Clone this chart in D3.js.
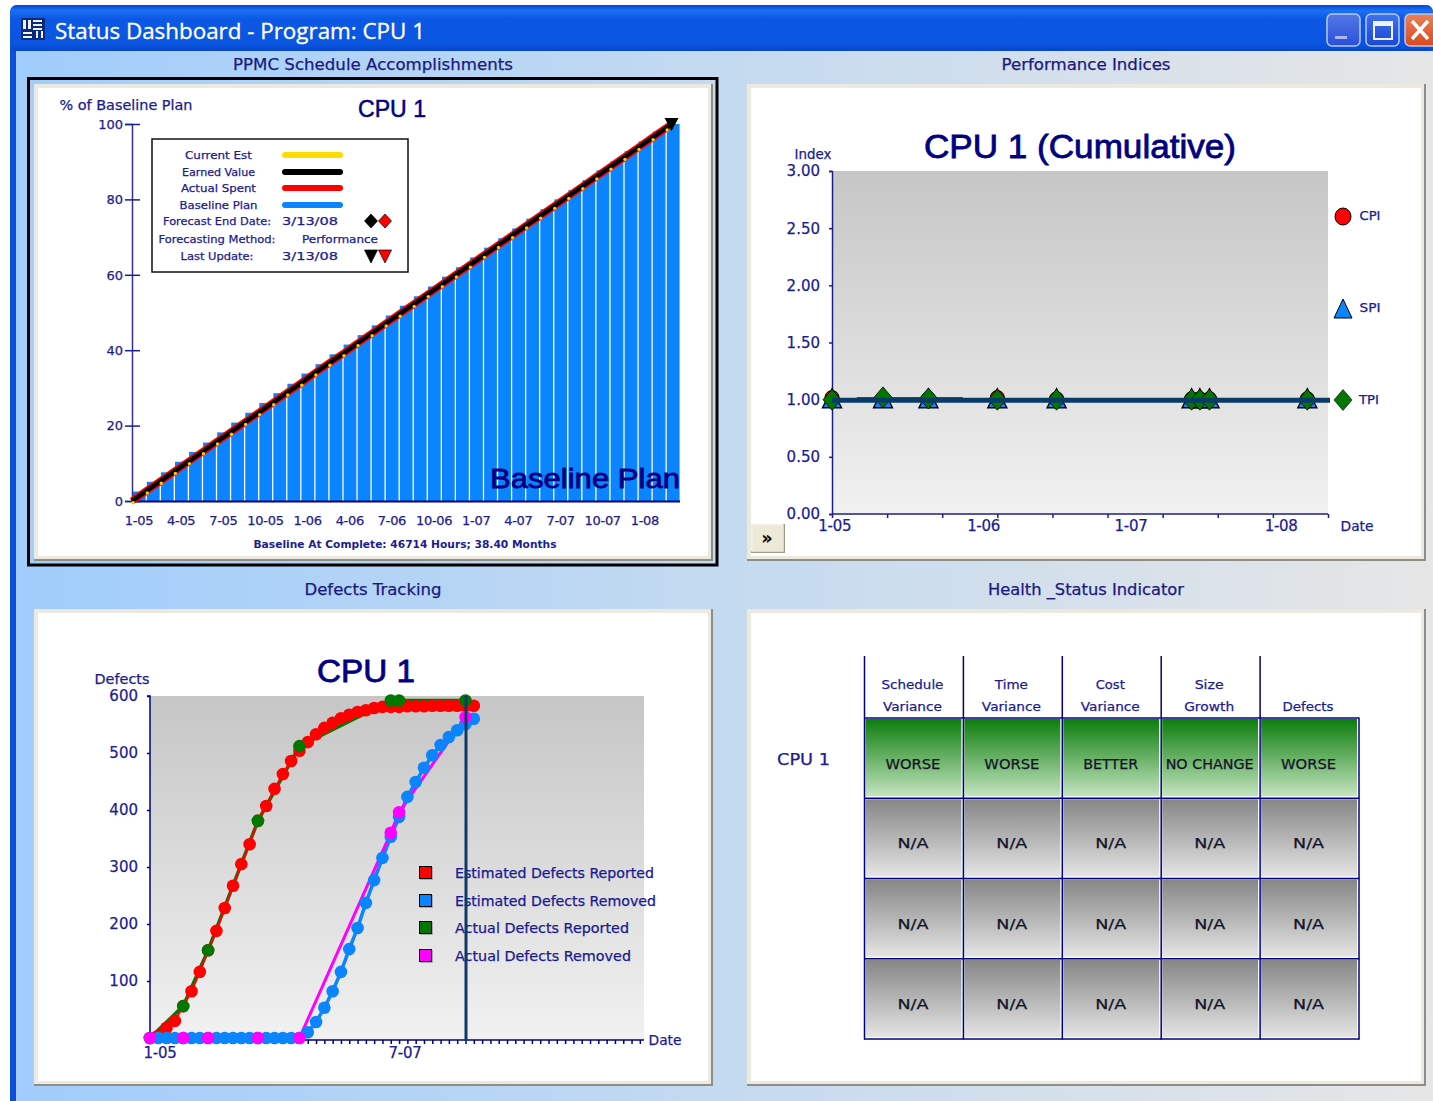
<!DOCTYPE html>
<html><head><meta charset="utf-8">
<script src="https://cdn.jsdelivr.net/npm/d3@7"></script>
<style>html,body{margin:0;padding:0;background:#fff;overflow:hidden}svg{display:block}text{font-family:"DejaVu Sans",sans-serif}</style>
</head><body><svg id="c" width="1433" height="1101"></svg>
<script>
// ---------- data ----------
const windowTitle = "Status Dashboard - Program: CPU 1";
const panelTitles = ["PPMC Schedule Accomplishments","Performance Indices","Defects Tracking","Health _Status Indicator"];

// Schedule accomplishments
const baselineBars = [2.5,5.1,7.6,10.4,13,15.5,18.2,20.8,23.4,26,28.6,31.1,33.8,36.3,38.9,41.5,44,46.6,49.2,51.8,54.3,56.9,59.5,62,64.6,67.2,69.7,72.3,74.9,77.4,80,82.5,85.1,87.7,90.2,92.8,95.4,98,100];
const scheduleMonths = [0,1,2,3,4,5,6,7,8,9,10,11,12,13,14,15,16,17,18,19,20,21,22,23,24,25,26,27,28,29,30,31,32,33,34,35,36,37,38,38.4];
const earnedValue = [0,2.6,5.2,7.8,10.4,13,15.6,18.2,20.8,23.4,26,28.6,31.2,33.9,36.5,39,41.7,44.3,46.9,49.5,52.1,54.7,57.3,59.9,62.5,65.1,67.7,70.3,72.9,75.5,78.1,80.7,83.3,85.9,88.5,91.1,93.7,96.3,98.9,100];
const scheduleTickLabels = ["1-05","4-05","7-05","10-05","1-06","4-06","7-06","10-06","1-07","4-07","7-07","10-07","1-08"];
const scheduleYTicks = [0,20,40,60,80,100];
const scheduleLegend = [["Current Est","#ffdc00",67],["Earned Value","#000000",73],["Actual Spent","#ff0000",75],["Baseline Plan","#0a84ff",78]];

// Performance indices
const perfMonths = [0,3.7,7,12,16.3,26.1,26.7,27.4,34.5];
const cpiValues = [1.01,1,1,1.01,1,1,1,1,1];
const spiValues = [0.99,0.99,0.99,0.99,0.99,0.99,0.99,0.99,0.99];
const tpiValues = [1,1.02,1.01,1,1,1,1,1,1];
const perfYTicks = [0,0.5,1,1.5,2,2.5,3];
const perfXTicks = [0,4,8,12,16,20,24,28,32,36];
const perfXLabels = [["1-05",0.2],["1-06",11],["1-07",21.7],["1-08",32.6]];

// Defects
const estReported = [0,4,18,30,56,82,116,154,188,228,267,305,340,381,407,437,463,486,504,519,533,544,553,561,567,572,575,579,581,581,581,582,582,582,583,583,583,583,583,583];
const estRemoved = [0,0,0,0,0,0,0,0,0,0,0,0,0,0,0,0,0,0,0,10,28,53,82,116,156,193,237,277,316,353,388,423,449,474,496,514,528,540,551,560];
const actualMonths = [0,4,7,13,18,29,30,38];
const actReported = [0,56,154,381,512,592,592,592];
const actRemoved = [0,0,0,0,0,360,396,563];
const defectsYTicks = [100,200,300,400,500,600];
const defectsMonthTicks = d3.range(0,60);
const defectsLegend = [["Estimated Defects Reported","#ff0000"],["Estimated Defects Removed","#0a84ff"],["Actual Defects Reported","#007800"],["Actual Defects Removed","#ff00ff"]];

// Health
const healthHeaders = [["Schedule","Variance"],["Time","Variance"],["Cost","Variance"],["Size","Growth"],["","Defects"]];
const healthRows = [
  ["WORSE","WORSE","BETTER","NO CHANGE","WORSE"],
  ["N/A","N/A","N/A","N/A","N/A"],
  ["N/A","N/A","N/A","N/A","N/A"],
  ["N/A","N/A","N/A","N/A","N/A"]];

// ---------- helpers ----------
const NAVY="#1c1c8e", DEEP="#000080";
const svg=d3.select("#c");
const defs=svg.append("defs");
function grad(id,stops,h){
  const g=defs.append("linearGradient").attr("id",id);
  if(h) g.attr("x1",0).attr("x2",1).attr("y1",0).attr("y2",0);
  else g.attr("x1",0).attr("x2",0).attr("y1",0).attr("y2",1);
  stops.forEach(s=>g.append("stop").attr("offset",s[0]).attr("stop-color",s[1]));
}
grad("bg",[[0,"#a0cdfc"],[0.5,"#c4daf0"],[1,"#e6e6e6"]],true);
grad("title",[[0,"#0a46d8"],[0.12,"#1a70f4"],[0.3,"#0c58e4"],[0.85,"#0a55e0"],[1,"#0746c8"]]);
grad("plot",[[0,"#c6c6c6"],[1,"#f1f1f1"]]);
grad("green",[[0,"#0c7d0c"],[1,"#c4e4c0"]]);
grad("gray",[[0,"#868686"],[1,"#e4e4e4"]]);
grad("minb",[[0,"#5478e4"],[1,"#2a4fd8"]]);
grad("maxb",[[0,"#3f72ee"],[1,"#1a48d4"]]);
grad("closeb",[[0,"#ec8058"],[1,"#d84a20"]]);

function T(g,s,x,y,size,o={}){
  const fill=o.fill||NAVY;
  const t=g.append("text").attr("x",x).attr("y",y).attr("font-size",size)
    .attr("fill",fill).attr("stroke",fill).attr("stroke-width",o.sw===undefined?0.25:o.sw)
    .attr("text-anchor",o.a||"middle").attr("dominant-baseline","central").text(s);
  if(o.w) t.attr("textLength",o.w).attr("lengthAdjust","spacingAndGlyphs");
  if(o.b) t.attr("font-weight",o.b);
  if(o.f) t.style("font-family",o.f);
  return t;
}
function panel(x,y,w,h){
  const g=svg.append("g");
  g.append("rect").attr("x",x).attr("y",y).attr("width",w).attr("height",h).attr("fill","#8e8e86");
  g.append("rect").attr("x",x).attr("y",y).attr("width",w-2).attr("height",h-2).attr("fill","#ece9e0");
  g.append("rect").attr("x",x+4).attr("y",y+4).attr("width",w-9).attr("height",h-9).attr("fill","#fff");
}
function styleAxis(g,color){
  g.selectAll("path,line").attr("stroke",color||NAVY).attr("stroke-width",1.5);
}
function styleTicks(g,size){
  g.selectAll("text").attr("font-size",size).attr("fill",NAVY).attr("stroke",NAVY).attr("stroke-width",0.25).attr("dy","0.33em").style("font-family","'DejaVu Sans'");
}

// ---------- window ----------
svg.append("rect").attr("x",10).attr("y",5).attr("width",1423).attr("height",1096).attr("rx",7).attr("fill","#0a50dc");
svg.append("rect").attr("x",10).attr("y",40).attr("width",1423).attr("height",1061).attr("fill","#0a50dc");
svg.append("rect").attr("x",10).attr("y",5).attr("width",1423).attr("height",46).attr("rx",7).attr("fill","url(#title)");
svg.append("rect").attr("x",16).attr("y",51).attr("width",1417).attr("height",1050).attr("fill","url(#bg)");

// icon
const ic=svg.append("g");
ic.append("rect").attr("x",21).attr("y",18).attr("width",24).attr("height",22).attr("fill","#0b2a7a");
[[23,20,3,9],[28,20,3,9],[33,20,9,2],[33,24,9,2],[33,28,9,2],[23,32,9,2],[23,36,9,2],[36,31,2,7],[41,31,2,7]].forEach(r=>
  ic.append("rect").attr("x",r[0]).attr("y",r[1]).attr("width",r[2]).attr("height",r[3]).attr("fill","#eef2ff"));
T(svg,windowTitle,55,31,21,{a:"start",fill:"#fff",w:370,f:"'Open Sans',sans-serif",sw:0.3});

// window buttons
function wb(x,w,fill){svg.append("rect").attr("x",x).attr("y",14).attr("width",w).attr("height",32).attr("rx",5).attr("fill",fill).attr("stroke","#b8c8f4").attr("stroke-width",1.5);}
wb(1327,33,"url(#minb)");
svg.append("rect").attr("x",1335).attr("y",36).attr("width",12).attr("height",3).attr("fill","#a8b8ee");
wb(1366,33,"url(#maxb)");
svg.append("rect").attr("x",1374).attr("y",22).attr("width",18).attr("height",17).attr("fill","none").attr("stroke","#eef2ff").attr("stroke-width",2);
svg.append("rect").attr("x",1374).attr("y",22).attr("width",18).attr("height",4).attr("fill","#eef2ff");
wb(1405,40,"url(#closeb)");
svg.append("path").attr("d","M1412,21L1428,39M1428,21L1412,39").attr("stroke","#fff").attr("stroke-width",3.5).attr("fill","none");

// panel titles
T(svg,panelTitles[0],373,65,15.5,{w:280,fill:"#1a1a80"});
T(svg,panelTitles[1],1086,65,15.5,{w:169,fill:"#1a1a80"});
T(svg,panelTitles[2],373,590,15.5,{w:137,fill:"#1a1a80"});
T(svg,panelTitles[3],1086,590,15.5,{w:196,fill:"#1a1a80"});

// selection border + panels
svg.append("rect").attr("x",28.5).attr("y",78.5).attr("width",688.5).attr("height",486.5).attr("fill","none").attr("stroke","#000").attr("stroke-width",3);
panel(34,84,679,477);
panel(747,84,679,477);
panel(34,609,679,477);
panel(747,609,679,477);

// ---------- chart 1 ----------
(function(){
  const g=svg.append("g");
  const x=d3.scaleLinear().domain([0,39]).range([132,680]);
  const band=d3.scaleBand().domain(d3.range(baselineBars.length)).range([132,680]).paddingInner(0.12).paddingOuter(0.06);
  const y=d3.scaleLinear().domain([0,100]).range([501,124]);
  g.selectAll("rect.b").data(baselineBars).join("rect").attr("class","b")
    .attr("x",(d,i)=>band(i)).attr("width",band.bandwidth()+0.4).attr("y",d=>y(d)).attr("height",d=>y(0)-y(d)).attr("fill","#0a84ff");
  const ax=g.append("g").attr("transform","translate(132,0)").call(d3.axisLeft(y).tickValues(scheduleYTicks).tickSize(7).tickPadding(2).tickFormat(d=>d));
  ax.selectAll("line").attr("x2",8).attr("x1",-7);
  styleTicks(ax,13);
  styleAxis(ax);
  ax.select("path").attr("stroke","#303098");
  g.append("line").attr("x1",132).attr("x2",680).attr("y1",501.5).attr("y2",501.5).attr("stroke",DEEP).attr("stroke-width",2);
  const line=d3.line().x((d,i)=>x(scheduleMonths[i])).y(d=>y(d));
  g.append("path").attr("d",line(earnedValue)).attr("fill","none").attr("stroke","#ff0000").attr("stroke-width",7.5);
  g.append("path").attr("d",line(earnedValue)).attr("fill","none").attr("stroke","#000").attr("stroke-width",4.5);
  g.selectAll("circle.y").data(earnedValue).join("circle").attr("class","y")
    .attr("cx",(d,i)=>x(scheduleMonths[i])+1.2).attr("cy",d=>y(d)+1.8).attr("r",1.7).attr("fill","#ffc800");
  g.append("path").attr("transform",`translate(${x(38.4)},${y(100)})`).attr("d","M-7,-6L7,-6L0,7Z").attr("fill","#000");
  g.selectAll("text.xl").data(scheduleTickLabels).join("text").attr("class","xl")
    .attr("x",(d,i)=>band(i*3)+band.bandwidth()/2).attr("y",520).attr("text-anchor","middle").attr("dominant-baseline","central")
    .attr("font-size",13).attr("fill",NAVY).attr("stroke",NAVY).attr("stroke-width",0.25).attr("letter-spacing",-0.3).text(d=>d);
  T(g,"% of Baseline Plan",126,104.5,13.5,{w:133});
  T(g,"CPU 1",392,109,23,{w:68,fill:DEEP,f:"'Liberation Sans'",sw:0.5});
  T(g,"Baseline Plan",585,478,28,{w:190,fill:DEEP,f:"'Liberation Sans'",sw:0.8});
  T(g,"Baseline At Complete: 46714 Hours; 38.40 Months",405,544,11,{w:303,b:600,sw:0});
  // legend
  g.append("rect").attr("x",152).attr("y",139).attr("width",256).attr("height",133).attr("fill","#fff").attr("stroke","#111").attr("stroke-width",1.5);
  const rows=[155,172,188,205];
  scheduleLegend.forEach((d,i)=>{
    T(g,d[0],218.5,rows[i],10.5,{w:d[2]});
    g.append("line").attr("x1",285).attr("x2",340).attr("y1",rows[i]).attr("y2",rows[i]).attr("stroke",d[1]).attr("stroke-width",6).attr("stroke-linecap","round");
  });
  T(g,"Forecast End Date:",217,221,10.5,{w:108});
  T(g,"3/13/08",310,221,11,{w:56});
  T(g,"Forecasting Method:",217,239,10.5,{w:117});
  T(g,"Performance",340,239,10.5,{w:76});
  T(g,"Last Update:",217,256,10.5,{w:73});
  T(g,"3/13/08",310,256,11,{w:56});
  [[371,"#000"],[385,"#ff0000"]].forEach(d=>{
    g.append("path").attr("transform",`translate(${d[0]},221)`).attr("d","M0,-7L6.5,0L0,7L-6.5,0Z").attr("fill",d[1]).attr("stroke","#000").attr("stroke-width",.7);
    g.append("path").attr("transform",`translate(${d[0]},256)`).attr("d","M-6.5,-6L6.5,-6L0,7Z").attr("fill",d[1]).attr("stroke","#000").attr("stroke-width",.7);
  });
})();

// ---------- chart 2 ----------
(function(){
  const g=svg.append("g");
  const x=d3.scaleLinear().domain([0,36]).range([832,1328]);
  const y=d3.scaleLinear().domain([0,3]).range([514,171]);
  g.append("rect").attr("x",x(0)).attr("y",y(3)).attr("width",x(36)-x(0)).attr("height",y(0)-y(3)).attr("fill","url(#plot)");
  const ay=g.append("g").attr("transform",`translate(${x(0)},0)`).call(d3.axisLeft(y).tickValues(perfYTicks).tickSize(3).tickPadding(9).tickFormat(d3.format(".2f")));
  styleTicks(ay,15);
  styleAxis(ay);
  const ax=g.append("g").attr("transform",`translate(0,${y(0)})`).call(d3.axisBottom(x).tickValues(perfXTicks).tickSize(4).tickFormat(""));
  styleAxis(ax);
  ax.select("path").attr("d",`M${x(0)},0H${x(36)}`);
  perfXLabels.forEach(d=>T(g,d[0],x(d[1]),526,15,{fill:NAVY}).attr("letter-spacing",-0.3));
  T(g,"Index",813,154,13.5,{w:37});
  T(g,"Date",1357,526,14,{w:33});
  T(g,"CPU 1 (Cumulative)",1080,146,33,{w:312,fill:DEEP,f:"'Liberation Sans'",sw:0.8});
  const dia="M0,-10.5L9,0L0,10.5L-9,0Z";
  const px=i=>x(perfMonths[i]);
  g.selectAll("circle.c").data(cpiValues).join("circle").attr("class","c").attr("cx",(d,i)=>px(i)).attr("cy",d=>y(d)-1).attr("r",7).attr("fill","#ff0000").attr("stroke","#000");
  g.selectAll("path.s").data(spiValues).join("path").attr("class","s").attr("d","M0,-12L9.5,7L-9.5,7Z").attr("transform",(d,i)=>`translate(${px(i)},${y(d)})`).attr("fill","#0a84ff").attr("stroke","#000").attr("stroke-width",1.4);
  g.append("line").attr("x1",x(1.8)).attr("x2",x(9.5)).attr("y1",y(1.015)).attr("y2",y(1.015)).attr("stroke","#007800").attr("stroke-width",2);
  g.selectAll("path.t").data(tpiValues).join("path").attr("class","t").attr("d",dia).attr("transform",(d,i)=>`translate(${px(i)},${y(d)})`).attr("fill","#007800").attr("stroke","#000").attr("stroke-width",.8);
  g.append("line").attr("x1",x(0)).attr("x2",1330).attr("y1",y(1)+0.5).attr("y2",y(1)+0.5).attr("stroke","#0a3a68").attr("stroke-width",5);
  // legend
  g.append("ellipse").attr("cx",1343).attr("cy",216.5).attr("rx",8).attr("ry",8.5).attr("fill","#ff0000").attr("stroke","#000");
  g.append("path").attr("d","M0,-10L9,9L-9,9Z").attr("transform","translate(1343,309)").attr("fill","#0a84ff").attr("stroke","#000");
  g.append("path").attr("d",dia).attr("transform","translate(1343,400)").attr("fill","#007800").attr("stroke","#000").attr("stroke-width",.6);
  T(g,"CPI",1370,216,11.5,{w:21});
  T(g,"SPI",1370,308,11.5,{w:21});
  T(g,"TPI",1369,400,11.5,{w:20});
  // button
  g.append("rect").attr("x",751).attr("y",524).attr("width",34).attr("height",29).attr("fill","#a09c8c");
  g.append("rect").attr("x",751).attr("y",524).attr("width",32.5).attr("height",27.5).attr("fill","#f4f2e8");
  g.append("rect").attr("x",752.5).attr("y",525.5).attr("width",31).attr("height",26).attr("fill","#ece9d8");
  T(g,"»",767,538,17,{fill:"#000",b:700});
})();

// ---------- chart 3 ----------
(function(){
  const g=svg.append("g");
  const x=d3.scaleLinear().domain([0,59.5]).range([150,644]);
  const y=d3.scaleLinear().domain([0,100]).range([1038,981]);
  g.append("rect").attr("x",150).attr("y",696).attr("width",494).attr("height",344).attr("fill","url(#plot)");
  const ay=g.append("g").attr("transform","translate(150,0)").call(d3.axisLeft(y).tickValues(defectsYTicks).tickSize(3).tickPadding(9).tickFormat(d=>d));
  styleTicks(ay,15);
  styleAxis(ay,DEEP);
  ay.select("path").attr("d","M-3,696H0V1040");
  const ax=g.append("g").attr("transform","translate(0,1040)").call(d3.axisBottom(x).tickValues(defectsMonthTicks).tickSize(4).tickFormat(""));
  styleAxis(ax,DEEP);
  ax.select("path").attr("d","M150,0H644");
  T(g,"1-05",160,1052.5,15,{}).attr("letter-spacing",-0.3);
  T(g,"7-07",405,1052.5,15,{}).attr("letter-spacing",-0.3);
  T(g,"Date",665,1040,14,{w:33});
  T(g,"Defects",122,679,13.5,{w:55});
  T(g,"CPU 1",366,671,31,{w:98,fill:DEEP,f:"'Liberation Sans'",sw:0.8});
  const lineE=d3.line().x((d,i)=>x(i)).y(d=>y(d));
  const lineA=d3.line().x((d,i)=>x(actualMonths[i])).y(d=>y(d));
  function path(d,c,w){g.append("path").attr("d",d).attr("fill","none").attr("stroke",c).attr("stroke-width",w);}
  function dots(data,fx,c,r){g.append("g").selectAll("circle").data(data).join("circle").attr("cx",(d,i)=>x(fx(i))).attr("cy",d=>y(d)).attr("r",r).attr("fill",c);}
  path(lineA(actReported),"#007800",3.5);
  path(lineE(estReported),"#ff0000",2);
  dots(estReported,i=>i,"#ff0000",6.3);
  dots(actReported,i=>actualMonths[i],"#007800",6.3);
  path(lineE(estRemoved),"#0a84ff",3.5);
  path(lineA(actRemoved),"#ff00ff",3);
  dots(estRemoved,i=>i,"#0a84ff",6.3);
  dots(actRemoved,i=>actualMonths[i],"#ff00ff",6.3);
  // legend
  const ly=[873,901,928,956];
  defectsLegend.forEach((d,i)=>{
    g.append("rect").attr("x",420).attr("y",ly[i]-6).attr("width",13).attr("height",13).attr("fill","#aaa");
    g.append("rect").attr("x",419.5).attr("y",ly[i]-6.5).attr("width",12).attr("height",12).attr("fill",d[1]).attr("stroke","#000");
    T(g,d[0],455,ly[i],13.5,{a:"start",w:[199,201,174,176][i],fill:"#1a1a90"});
  });
  g.append("line").attr("x1",x(38)+0.5).attr("x2",x(38)+0.5).attr("y1",696).attr("y2",1041).attr("stroke","#0f3a68").attr("stroke-width",3);
})();

// ---------- chart 4 ----------
(function(){
  const g=svg.append("g");
  const x=d3.scaleBand().domain(d3.range(5)).range([864.5,1359]);
  const y=d3.scaleBand().domain(d3.range(4)).range([718,1039]);
  healthRows.forEach((row,r)=>row.forEach((v,c)=>{
    g.append("rect").attr("x",x(c)).attr("y",y(r)).attr("width",x.bandwidth()).attr("height",y.bandwidth()).attr("fill","#fff");
    g.append("rect").attr("x",x(c)+1).attr("y",y(r)+1).attr("width",x.bandwidth()-3).attr("height",y.bandwidth()-3).attr("fill",r===0?"url(#green)":"url(#gray)");
    T(g,v,x(c)+x.bandwidth()/2-1,y(r)+(r===0?46:45),13.5,{fill:"#141428",w:v==="NO CHANGE"?88:v==="N/A"?31:55});
  }));
  healthHeaders.forEach((h,c)=>{
    const cx=x(c)+x.bandwidth()/2-1.5;
    if(h[0]) T(g,h[0],cx,684,12.5,{w:{"Schedule":62,"Time":33,"Cost":29,"Size":29}[h[0]]});
    T(g,h[1],cx,706,12.5,{w:{"Variance":59,"Growth":50,"Defects":51}[h[1]]});
  });
  d3.range(6).forEach(i=>{
    const xx=i<5?x(i):1359;
    if(i===5){g.append("line").attr("x1",xx).attr("x2",xx).attr("y1",718).attr("y2",1039.5).attr("stroke",DEEP).attr("stroke-width",1.5);return;}
    g.append("line").attr("x1",xx).attr("x2",xx).attr("y1",656).attr("y2",1039.5).attr("stroke",DEEP).attr("stroke-width",1.5);
  });
  d3.range(5).forEach(i=>{
    const yy=i<4?y(i):1039;
    g.append("line").attr("x1",864).attr("x2",1359.5).attr("y1",yy).attr("y2",yy).attr("stroke",DEEP).attr("stroke-width",1.5);
  });
  T(g,"CPU 1",803.5,759.5,15,{w:53});
})();
</script></body></html>
